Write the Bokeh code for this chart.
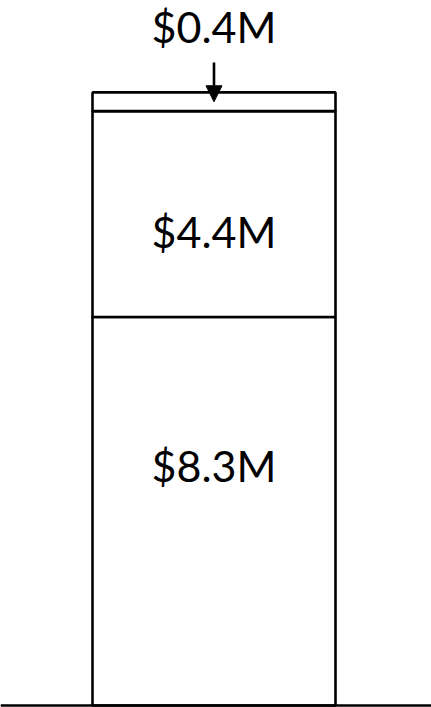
from bokeh.plotting import figure
from bokeh.models import Range1d, Span, Arrow, NormalHead, ColumnDataSource
from bokeh.core.properties import value
from bokeh.embed import file_html
from bokeh.resources import INLINE
import numpy as np

# Data
segments = ["Base", "Middle", "Top"]
values = [8.3, 4.4, 0.4]
labels = ["$8.3M", "$4.4M", "$0.4M"]

W, H = 431, 707
px_per_unit = 46.8
bar_px = 243.0
y0 = -2 / px_per_unit
x0 = -0.5 - 92 / bar_px

vals = np.array(values)
tops = np.cumsum(vals)
bottoms = tops - vals
total = tops[-1]

p = figure(width=W, height=H, output_backend="svg", toolbar_location=None,
           x_range=Range1d(x0, x0 + W / bar_px),
           y_range=Range1d(y0, y0 + H / px_per_unit),
           min_border=0, outline_line_color=None)
p.axis.visible = False
p.grid.visible = False
p.background_fill_color = "white"
p.border_fill_color = "white"

src = ColumnDataSource(dict(x=[0] * len(vals), bottom=bottoms, top=tops))
p.vbar(x="x", width=1.0, bottom="bottom", top="top", source=src,
       fill_color="white", line_color="black", line_width=2.6)

p.add_layout(Span(location=0, dimension="width", line_color="black", line_width=2.6))

# Labels inside the two larger segments, top label above the bar
mids = (bottoms + tops) / 2
lab_src = ColumnDataSource(dict(
    x=[0, 0, 0],
    y=[mids[0], mids[1], total],
    text=labels,
    yoff=[-46, 17, -66],
))
p.text(x="x", y="y", text="text", y_offset="yoff", source=lab_src,
       text_font=value("Lato"), text_font_size="43px", text_color="black",
       text_align="center", text_baseline="middle")

p.add_layout(Arrow(x_start=0, y_start=total + 30 / px_per_unit,
                   x_end=0, y_end=mids[2],
                   line_width=2.6, line_color="black",
                   end=NormalHead(size=16, fill_color="black", line_color="black")))

open("out.html", "w").write(file_html(p, INLINE))
